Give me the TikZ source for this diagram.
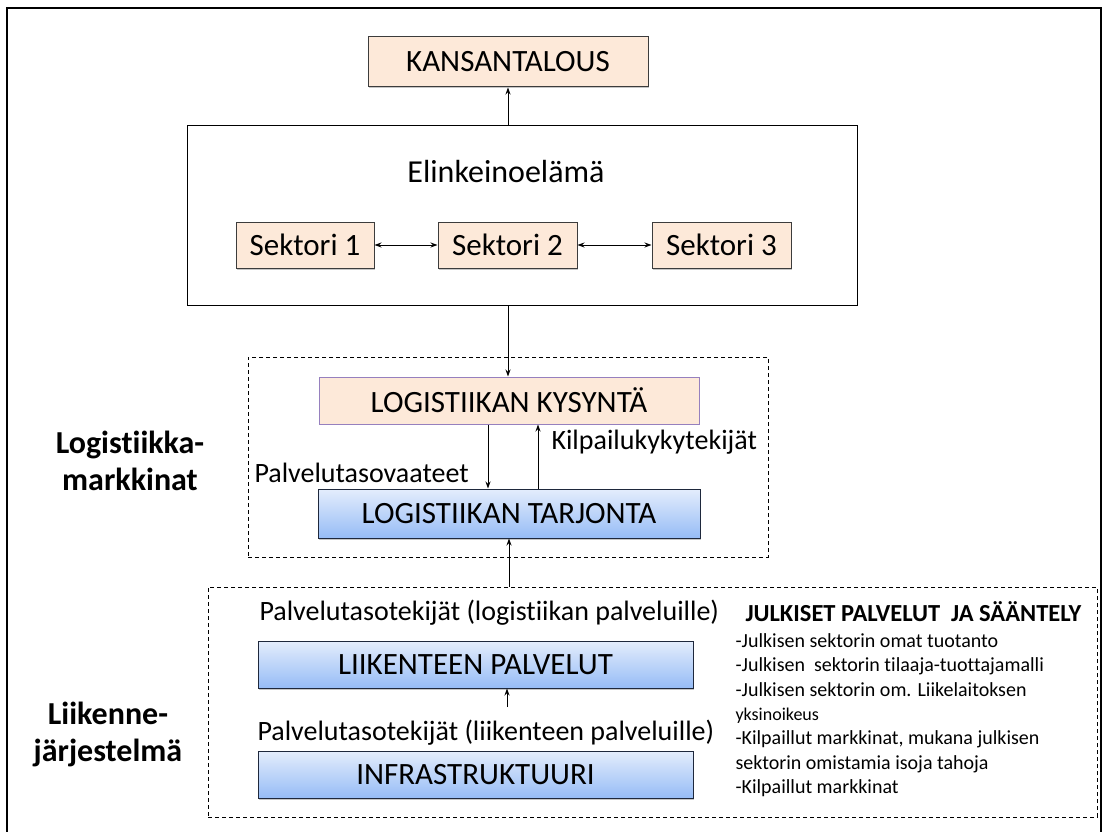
\documentclass[tikz,border=0pt]{standalone}
\usepackage{fontspec}
\setmainfont[Ligatures=NoCommon]{Carlito}
\usetikzlibrary{arrows.meta,shadows}
\tikzset{>={Stealth[length=7pt,width=5pt]}}

\definecolor{peach}{RGB}{253,233,217}
\definecolor{boxline}{RGB}{60,60,60}
\definecolor{lilac}{RGB}{150,128,190}
\definecolor{bluetop}{RGB}{228,237,252}
\definecolor{bluebot}{RGB}{150,188,246}
\definecolor{blueline}{RGB}{30,40,60}

\begin{document}
\begin{tikzpicture}[x=1pt,y=-1pt,line width=1pt,
    boxshadow/.style={drop shadow={shadow xshift=1pt,shadow yshift=-1.5pt,opacity=.45}},
    peachbox/.style={draw=boxline,fill=peach,inner sep=0pt,font=\fontsize{31}{36}\selectfont},
    bluebox/.style={draw=blueline,top color=bluetop,bottom color=bluebot,inner sep=0pt,font=\fontsize{31}{36}\selectfont,boxshadow},
    dashbox/.style={draw,dash pattern=on 4pt off 3pt,line width=.8pt,inner sep=0pt},
    tasotext/.style={font=\fontsize{28}{33}\selectfont,inner sep=0pt,anchor=west},
    sidetext/.style={font=\bfseries\fontsize{32}{37}\selectfont,inner sep=0pt,align=center},
    listtext/.style={font=\fontsize{20}{24.4}\selectfont,inner sep=0pt,align=left}]

    % Frame
    \clip (0,0) rectangle (1109,832);
    \draw[line width=1.2pt] (7,8) rectangle (1101,845);

    % Kansantalous and elinkeinoelama
    \node[peachbox,boxshadow,minimum width=280pt,minimum height=50pt] (kansa) at (508,62) {KANSANTALOUS};
    \node[draw,inner sep=0pt,minimum width=670pt,minimum height=179pt] (elink) at (522,215.5) {};
    \node[font=\fontsize{32}{37}\selectfont,inner sep=0pt] (elinkt) at (506,172) {Elinkeinoelämä};

    % Sectors
    \node[peachbox,boxshadow,minimum width=138pt,minimum height=46pt] (sek1) at (305,245) {Sektori 1};
    \node[peachbox,boxshadow,minimum width=139pt,minimum height=46pt] (sek2) at (507.5,245) {Sektori 2};
    \node[peachbox,boxshadow,minimum width=139pt,minimum height=46pt] (sek3) at (721.5,245) {Sektori 3};
    \draw[<->] (sek1) -- (sek2);
    \draw[<->] (sek2) -- (sek3);

    % Logistiikkamarkkinat
    \node[dashbox,minimum width=520pt,minimum height=200pt] (logbox) at (508,457) {};
    \node[peachbox,draw=lilac,minimum width=380pt,minimum height=47pt] (kysynta) at (509,400.5) {LOGISTIIKAN KYSYNTÄ};
    \node[bluebox,minimum width=382pt,minimum height=49pt] (tarjonta) at (509,513.5) {LOGISTIIKAN TARJONTA};
    \node[tasotext] (vaateet) at (254,473) {Palvelutasovaateet};
    \node[tasotext] (kilpailu) at (551,442) {Kilpailukykytekijät};
    \node[sidetext] (logm) at (130,461) {Logistiikka-\\markkinat};

    % Liikennejarjestelma
    \node[dashbox,minimum width=889pt,minimum height=230pt] (liikbox) at (652.5,702) {};
    \node[tasotext] (tekijat1) at (259,613) {Palvelutasotekijät (logistiikan palveluille)};
    \node[bluebox,minimum width=435pt,minimum height=47pt] (liikenne) at (475.5,664.5) {LIIKENTEEN PALVELUT};
    \node[tasotext] (tekijat2) at (257,733) {Palvelutasotekijät (liikenteen\ palveluille)};
    \node[bluebox,minimum width=435pt,minimum height=47pt] (infra) at (475.5,774.5) {INFRASTRUKTUURI};
    \node[sidetext] (liikj) at (108,734) {Liikenne-\\järjestelmä};

    % Julkiset palvelut
    \node[font=\bfseries\fontsize{24.5}{28}\selectfont,inner sep=0pt,anchor=west] (julkh) at (745,612) {JULKISET PALVELUT\ \ JA SÄÄNTELY};
    \node[listtext,anchor=north west] (julk) at (735,633) {-Julkisen sektorin omat tuotanto\\
        -Julkisen\ \ sektorin tilaaja-tuottajamalli\\
        -Julkisen sektorin om. Liikelaitoksen\\
        {\fontsize{18}{24.4}\selectfont yksinoikeus}\\
        -Kilpaillut markkinat, mukana julkisen\\
        sektorin omistamia isoja tahoja\\
        -Kilpaillut markkinat};

    % Connectors
    \coordinate (mid) at (508,0);
    \draw[->] (kansa.south |- elink.north) -- (kansa.south);
    \draw[->] (mid |- elink.south) -- (mid |- kysynta.north);
    \draw[->] ([xshift=-21pt]kysynta.south) -- ([xshift=-21pt]tarjonta.north);
    \draw[->] ([xshift=29pt]tarjonta.north) -- ([xshift=29pt]kysynta.south);
    \draw[->] (tarjonta.south |- liikbox.north) -- (tarjonta.south);
    \coordinate (liikp) at (507,707);
    \draw[->] (liikp) -- (liikp |- liikenne.south);
\end{tikzpicture}
\end{document}
